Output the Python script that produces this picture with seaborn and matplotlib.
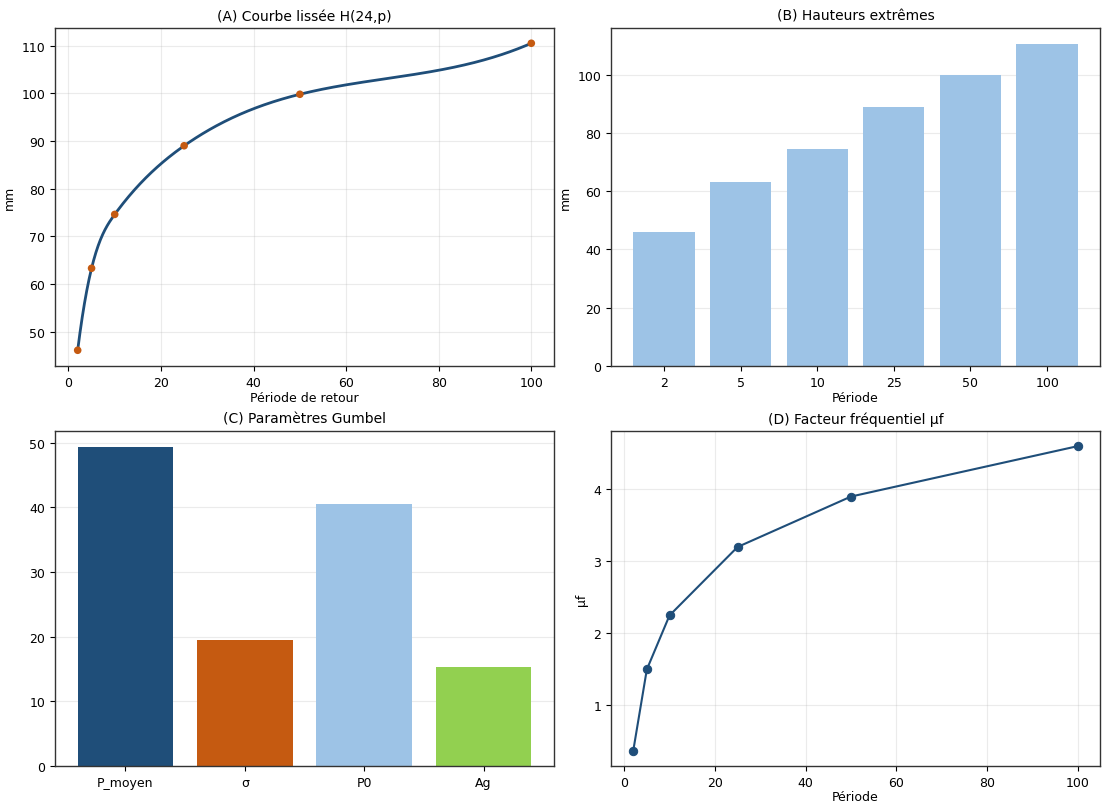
import numpy as np
import pandas as pd
import matplotlib
matplotlib.use("Agg")
import matplotlib.pyplot as plt
import seaborn as sns

# ---- data ----
periods = [2, 5, 10, 25, 50, 100]
period_labels = ["2", "5", "10", "25", "50", "100"]
heights = [46.1, 63.3, 74.6, 89.0, 99.8, 110.5]
uf = [0.37, 1.50, 2.25, 3.20, 3.90, 4.60]
param_names = ["P_moyen", "σ", "P0", "Ag"]
param_values = [49.3, 19.5, 40.5, 15.3]

DARK = "#1f4e79"
ORANGE = "#c55a11"
LIGHT = "#9dc3e6"
GREEN = "#92d050"


def not_a_knot_spline(x, y, xs):
    x = np.asarray(x, float)
    y = np.asarray(y, float)
    n = len(x)
    m = n - 1
    A = np.zeros((4 * m, 4 * m))
    rhs = np.zeros(4 * m)
    r = 0
    for i in range(m):
        h = x[i + 1] - x[i]
        A[r, 4 * i] = 1; rhs[r] = y[i]; r += 1
        A[r, 4 * i:4 * i + 4] = [1, h, h ** 2, h ** 3]; rhs[r] = y[i + 1]; r += 1
    for i in range(m - 1):
        h = x[i + 1] - x[i]
        A[r, 4 * i:4 * i + 4] = [0, 1, 2 * h, 3 * h ** 2]
        A[r, 4 * (i + 1) + 1] = -1; r += 1
        A[r, 4 * i:4 * i + 4] = [0, 0, 2, 6 * h]
        A[r, 4 * (i + 1) + 2] = -2; r += 1
    A[r, 3] = 1; A[r, 7] = -1; r += 1
    A[r, 4 * (m - 2) + 3] = 1; A[r, 4 * (m - 1) + 3] = -1; r += 1
    coef = np.linalg.solve(A, rhs)
    idx = np.clip(np.searchsorted(x, xs, side="right") - 1, 0, m - 1)
    t = xs - x[idx]
    a, b, c, d = (coef[4 * idx + k] for k in range(4))
    return a + b * t + c * t ** 2 + d * t ** 3


plt.rcParams.update({
    "font.family": ["DejaVu Sans"],
    "font.size": 9,
    "axes.titlesize": 10,
    "axes.labelsize": 9,
    "xtick.labelsize": 9,
    "ytick.labelsize": 9,
    "axes.edgecolor": "#333333",
    "axes.linewidth": 1.0,
})

fig = plt.figure(figsize=(11.02, 8.03), dpi=100)
W, H = 1102.0, 803.0


def add_ax(l, t, r, b):
    return fig.add_axes([l / W, 1 - b / H, (r - l) / W, (b - t) / H])


axA = add_ax(55, 29, 554, 367)
axB = add_ax(611, 29, 1100, 367)
axC = add_ax(55, 432, 554, 767)
axD = add_ax(611, 432, 1100, 767)

# (A) smooth curve
xs = np.linspace(min(periods), max(periods), 400)
ys = not_a_knot_spline(periods, heights, xs)
df_s = pd.DataFrame({"x": xs, "y": ys})
df_p = pd.DataFrame({"x": periods, "y": heights})
sns.lineplot(data=df_s, x="x", y="y", ax=axA, color=DARK, linewidth=2, zorder=2)
sns.scatterplot(data=df_p, x="x", y="y", ax=axA, color=ORANGE, s=30,
                edgecolor="none", zorder=3)
axA.set_title("(A) Courbe lissée H(24,p)")
axA.set_xlabel("Période de retour", labelpad=2)
axA.set_ylabel("mm")
axA.grid(True, alpha=0.25)
axA.set_xlim(-2.9, 104.9)
axA.set_ylim(42.8, 113.7)
axA.set_yticks([50, 60, 70, 80, 90, 100, 110])

# (B) bars
df_b = pd.DataFrame({"p": period_labels, "h": heights})
sns.barplot(data=df_b, x="p", y="h", ax=axB, color=LIGHT, saturation=1,
            width=0.8, order=period_labels)
axB.set_title("(B) Hauteurs extrêmes")
axB.set_xlabel("Période", labelpad=2)
axB.set_ylabel("mm")
axB.grid(True, axis="y", alpha=0.25)
axB.set_axisbelow(True)
axB.set_xlim(-0.69, 5.69)
axB.set_ylim(0, 116)

# (C) Gumbel parameters
df_c = pd.DataFrame({"n": param_names, "v": param_values})
sns.barplot(data=df_c, x="n", y="v", hue="n", ax=axC,
            palette=[DARK, ORANGE, LIGHT, GREEN], saturation=1, width=0.8,
            legend=False, order=param_names)
axC.set_title("(C) Paramètres Gumbel")
axC.set_xlabel("")
axC.set_ylabel("")
axC.grid(True, axis="y", alpha=0.25)
axC.set_axisbelow(True)
axC.set_xlim(-0.59, 3.59)
axC.set_ylim(0, 51.8)

# (D) frequency factor
df_d = pd.DataFrame({"x": periods, "y": uf})
sns.lineplot(data=df_d, x="x", y="y", ax=axD, color=DARK, linewidth=1.5,
             marker="o", markersize=6, markeredgecolor=DARK)
axD.set_title("(D) Facteur fréquentiel μf")
axD.set_xlabel("Période", labelpad=1)
axD.set_ylabel("μf")
axD.grid(True, alpha=0.25)
axD.set_xlim(-2.9, 104.9)
axD.set_ylim(0.16, 4.81)
axD.set_yticks([1, 2, 3, 4])

for ax in (axA, axB, axC, axD):
    for s in ax.spines.values():
        s.set_visible(True)

fig.savefig("out.png", dpi=100)
